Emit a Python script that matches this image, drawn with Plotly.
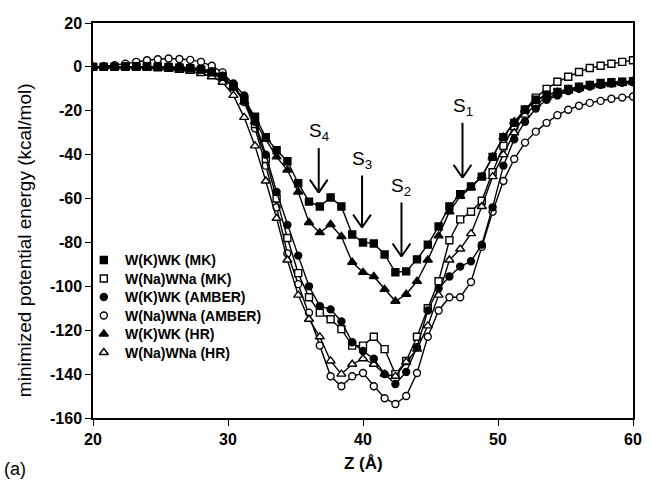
import plotly.graph_objects as go

# ---------------- data ----------------
z = [20.0, 20.8, 21.6, 22.4, 23.2, 24.0, 24.8, 25.6, 26.4, 27.2,
     28.0, 28.8, 29.6, 30.4, 31.2, 32.0, 32.8, 33.6, 34.4, 35.2,
     36.0, 36.8, 37.6, 38.4, 39.2, 40.0, 40.8, 41.6, 42.4, 43.2,
     44.0, 44.8, 45.6, 46.4, 47.2, 48.0, 48.8, 49.6, 50.4, 51.2,
     52.0, 52.8, 53.6, 54.4, 55.2, 56.0, 56.8, 57.6, 58.4, 59.2, 60.0]

k_mk = [0, 0, 0, 0.2, 0.3, 0.3, 0.2, 0, -0.3, -0.6,
        -1.2, -2.5, -4.5, -9, -15, -22.7, -32, -38, -43, -53,
        -61.4, -63.6, -59.5, -63.6, -76.4, -80, -80.5, -85.5, -93.6, -93.2,
        -87.7, -81, -72.7, -63.6, -58, -54.5, -50, -41, -32, -25.5,
        -19.5, -15, -12.7, -11.4, -10, -9, -8.2, -7.3, -7, -6.8, -6.5]

na_mk = [0, 0, 0, 0, 0, 0, -0.2, -0.4, -0.7, -1,
         -1.5, -3, -5.5, -9, -15, -26, -42, -60, -78, -94,
         -105, -112, -115, -119.5, -127, -127, -123, -128.6, -140, -134,
         -123, -110, -97.7, -79, -69.5, -66, -61, -48, -36, -27,
         -19.5, -14, -10, -6.8, -4.5, -2.3, -0.5, 0.5, 1.4, 2.3, 3]

k_amber = [0, 0, 0, 0.2, 0.3, 0.3, 0.3, 0.2, 0, -0.3,
           -0.8, -2, -4, -7.5, -13, -25, -40, -57, -72, -86,
           -100, -109, -110.5, -116, -125.5, -129.5, -133, -140, -144.5, -139,
           -127.7, -111, -101, -95.5, -91, -88.6, -81, -64, -45, -33,
           -25, -19, -15, -13, -11, -10, -9, -8.2, -7.6, -7.2, -7]

na_amber = [0, 0.3, 0.8, 1.5, 2.3, 3, 3.5, 3.8, 3.6, 3.2,
            2.3, 0.5, -2.5, -8, -16, -28, -45, -64, -85, -99,
            -112, -127, -141, -145.5, -141, -139.5, -145.5, -151, -153.6, -150,
            -139.5, -123, -111, -105, -105, -98, -82, -66, -52, -42,
            -34.5, -29.5, -25.5, -22, -19.5, -17.7, -16.4, -15.5, -14.5, -14, -13.5]

k_hr = [0, 0, 0, 0, 0, -0.2, -0.3, -0.5, -0.8, -1.2,
        -1.8, -2.8, -4.5, -9, -16, -25, -33, -41, -47, -57,
        -70.9, -75.5, -71.8, -77.3, -89, -93.6, -95.5, -101.4, -106.8, -103.6,
        -97.7, -88, -77, -66, -59, -55, -50, -41, -32, -25,
        -19.5, -15.5, -13, -11.5, -10.3, -9.3, -8.4, -7.7, -7.2, -6.9, -6.5]

na_hr = [0, 0, 0, 0, -0.2, -0.4, -0.6, -1, -1.5, -2,
         -3, -4.5, -7, -13, -23, -36, -52, -69, -88, -104,
         -115, -123, -134, -140, -135.5, -133, -135.5, -140, -141, -134.5,
         -128.6, -118, -104, -88, -83, -76, -63.6, -50, -40, -30,
         -22, -17, -14, -12.5, -11, -10, -9, -8.5, -8, -7.5, -7]

series_names = ["W(K)WK (MK)", "W(Na)WNa (MK)", "W(K)WK (AMBER)",
                "W(Na)WNa (AMBER)", "W(K)WK (HR)", "W(Na)WNa (HR)"]
series_values = [k_mk, na_mk, k_amber, na_amber, k_hr, na_hr]

x_ticks = [20, 30, 40, 50, 60]
y_ticks = [20, 0, -20, -40, -60, -80, -100, -120, -140, -160]
y_tick_labels = ["20", "0", "-20", "-40", "-60", "-80", "-100", "-120", "-140", "-160"]

site_labels = ["S<sub>4</sub>", "S<sub>3</sub>", "S<sub>2</sub>", "S<sub>1</sub>"]
site_z = [36.72, 39.93, 42.85, 47.37]
site_tail = [-37.0, -49.5, -61.8, -25.5]
site_tip = [-57.3, -73.2, -86.4, -50.5]

# ---------------- style ----------------
symbols = ["square", "square", "circle", "circle", "triangle-up", "triangle-up"]
fills = ["black", "white", "black", "white", "black", "white"]
sizes = [7, 7, 7, 7, 8, 8]
FONT = "Liberation Sans, Arial, sans-serif"

L, R, T, B = 93, 10, 23, 67
W, H = 652, 485
PW, PH = W - L - R, H - T - B


def px_to_paper(px, py):
    return (px - L) / PW, (H - B - py) / PH


fig = go.Figure()

# draw hollow-marker series first, filled ones on top
order = [3, 1, 5, 2, 0, 4]
for k in order:
    fig.add_trace(go.Scatter(
        x=z, y=series_values[k], mode="lines+markers",
        line=dict(color="black", width=1.4),
        marker=dict(symbol=symbols[k], size=sizes[k], color=fills[k],
                    line=dict(color="black", width=1.4)),
        showlegend=False, name=series_names[k]))

# ---------- key (marker + label) on an overlay paper-like axis ----------
legend_px_y = [260, 278.5, 297, 315.5, 334, 352.5]
legend_marker_px_x = 104
legend_text_px_x = 124
for k in range(6):
    mx, my = px_to_paper(legend_marker_px_x, legend_px_y[k])
    fig.add_trace(go.Scatter(
        x=[mx], y=[my], mode="markers", xaxis="x2", yaxis="y2",
        marker=dict(symbol=symbols[k], size=sizes[k], color=fills[k],
                    line=dict(color="black", width=1.4)),
        showlegend=False, hoverinfo="skip", name=series_names[k]))
    tx, ty = px_to_paper(legend_text_px_x, legend_px_y[k])
    fig.add_annotation(x=tx, y=ty, xref="paper", yref="paper", text=series_names[k],
                       showarrow=False, xanchor="left", yanchor="middle",
                       font=dict(family=FONT, size=14, color="black", weight="bold"))

# arrows for binding sites
V_HALF_W = 0.66
V_H = 5.9
for xs, yt, yp in zip(site_z, site_tail, site_tip):
    fig.add_shape(type="line", x0=xs, x1=xs, y0=yt, y1=yp, xref="x", yref="y",
                  line=dict(color="black", width=2))
    fig.add_shape(type="line", x0=xs - V_HALF_W, x1=xs, y0=yp + V_H, y1=yp, xref="x", yref="y",
                  line=dict(color="black", width=2))
    fig.add_shape(type="line", x0=xs + V_HALF_W, x1=xs, y0=yp + V_H, y1=yp, xref="x", yref="y",
                  line=dict(color="black", width=2))

for lab, xs, yt in zip(site_labels, site_z, site_tail):
    fig.add_annotation(x=xs, y=yt, xref="x", yref="y", text=lab, showarrow=False,
                       yanchor="bottom", xanchor="center", yshift=2,
                       font=dict(family=FONT, size=19, color="black"))

# axis titles & panel label
fig.add_annotation(x=0.5, y=-0.115, xref="paper", yref="paper", text="Z (Å)",
                   showarrow=False, xanchor="center", yanchor="middle",
                   font=dict(family=FONT, size=17, color="black", weight="bold"))
fig.add_annotation(x=-0.128, y=0.45, xref="paper", yref="paper",
                   text="minimized potential energy (kcal/mol)", textangle=-90,
                   showarrow=False, xanchor="center", yanchor="middle",
                   font=dict(family=FONT, size=19, color="black"))
fig.add_annotation(x=-0.168, y=-0.13, xref="paper", yref="paper", text="(a)",
                   showarrow=False, xanchor="left", yanchor="middle",
                   font=dict(family=FONT, size=18, color="black"))

fig.update_layout(
    width=W, height=H,
    margin=dict(l=L, r=R, t=T, b=B),
    paper_bgcolor="white", plot_bgcolor="white",
    font=dict(family=FONT, color="black"),
    showlegend=False,
    xaxis=dict(range=[20, 60], tickvals=x_ticks, showgrid=False, zeroline=False,
               showline=True, linecolor="black", linewidth=1.5, mirror=True,
               ticks="outside", ticklen=6, tickwidth=1.3, tickcolor="black",
               tickfont=dict(family=FONT, size=16, color="black", weight="bold")),
    yaxis=dict(range=[-160, 20], tickvals=y_ticks, ticktext=y_tick_labels,
               showgrid=False, zeroline=False,
               showline=True, linecolor="black", linewidth=1.5, mirror=True,
               ticks="outside", ticklen=6, tickwidth=1.3, tickcolor="black",
               tickfont=dict(family=FONT, size=16, color="black", weight="bold")),
    xaxis2=dict(range=[0, 1], overlaying="x", visible=False, fixedrange=True),
    yaxis2=dict(range=[0, 1], overlaying="y", visible=False, fixedrange=True),
)

fig.write_html("out.html")
